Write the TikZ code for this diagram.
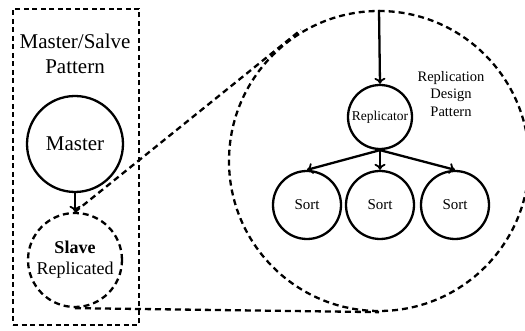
\documentclass[tikz,border=0pt]{standalone}
\usepackage{fontspec}
\setmainfont{Liberation Serif}
\usetikzlibrary{arrows.meta,calc}
\begin{document}
\begin{tikzpicture}[x=1pt,y=1pt,
  solidcirc/.style={circle,draw,line width=2.3pt,inner sep=0pt},
  dashcirc/.style={circle,draw,line width=2.3pt,dash pattern=on 6pt off 4pt,inner sep=0pt},
  dashln/.style={line width=2.3pt,dash pattern=on 6pt off 4pt},
  arr/.style={line width=2.3pt,-{To[length=6pt,width=11pt,line width=1.8pt]}}]
\useasboundingbox (0,0) rectangle (525,331);
\node[draw,line width=2.3pt,dash pattern=on 5pt off 3.5pt,minimum width=126pt,minimum height=316pt,inner sep=0pt] (box) at (76,164) {};
\node[align=center,font=\fontsize{21}{25}\selectfont] (title) at (75,277) {Master/Salve\\Pattern};
\node[solidcirc,minimum size=96pt,font=\fontsize{21}{25}\selectfont] (master) at (75,187) {Master};
\node[dashcirc,minimum size=94pt,align=center,font=\fontsize{18}{22}\selectfont] (slave) at (75,71) {\textbf{Slave}\\[-1pt]Replicated};
\node[dashcirc,minimum size=300pt] (big) at (379,170) {};
\node[align=center,font=\fontsize{14.5}{17.5}\selectfont] (rdp) at (451,237) {Replication\\Design\\Pattern};
\node[solidcirc,minimum size=64pt,font=\fontsize{13.5}{15}\selectfont] (rep) at (380,214) {Replicator};
\node[solidcirc,minimum size=68pt,font=\fontsize{15}{18}\selectfont] (s1) at (307,126) {Sort};
\node[solidcirc,minimum size=68pt,font=\fontsize{15}{18}\selectfont] (s2) at (380,126) {Sort};
\node[solidcirc,minimum size=68pt,font=\fontsize{15}{18}\selectfont] (s3) at (455,126) {Sort};
\draw[arr] (master.south) -- (slave.north);
\draw[arr] (big.north) -- (rep.north);
\draw[arr] (rep.south) -- (s1.north);
\draw[arr] (rep.south) -- (s2.north);
\draw[arr] (rep.south) -- (s3.north);
\coordinate (tp) at (tangent cs:node=big,point={(slave.north)},solution=2);
\draw[dashln] (slave.north) -- ($(slave.north)!1.08!(tp)$);
\draw[dashln] (slave.south) -- (big.south);
\end{tikzpicture}
\end{document}
